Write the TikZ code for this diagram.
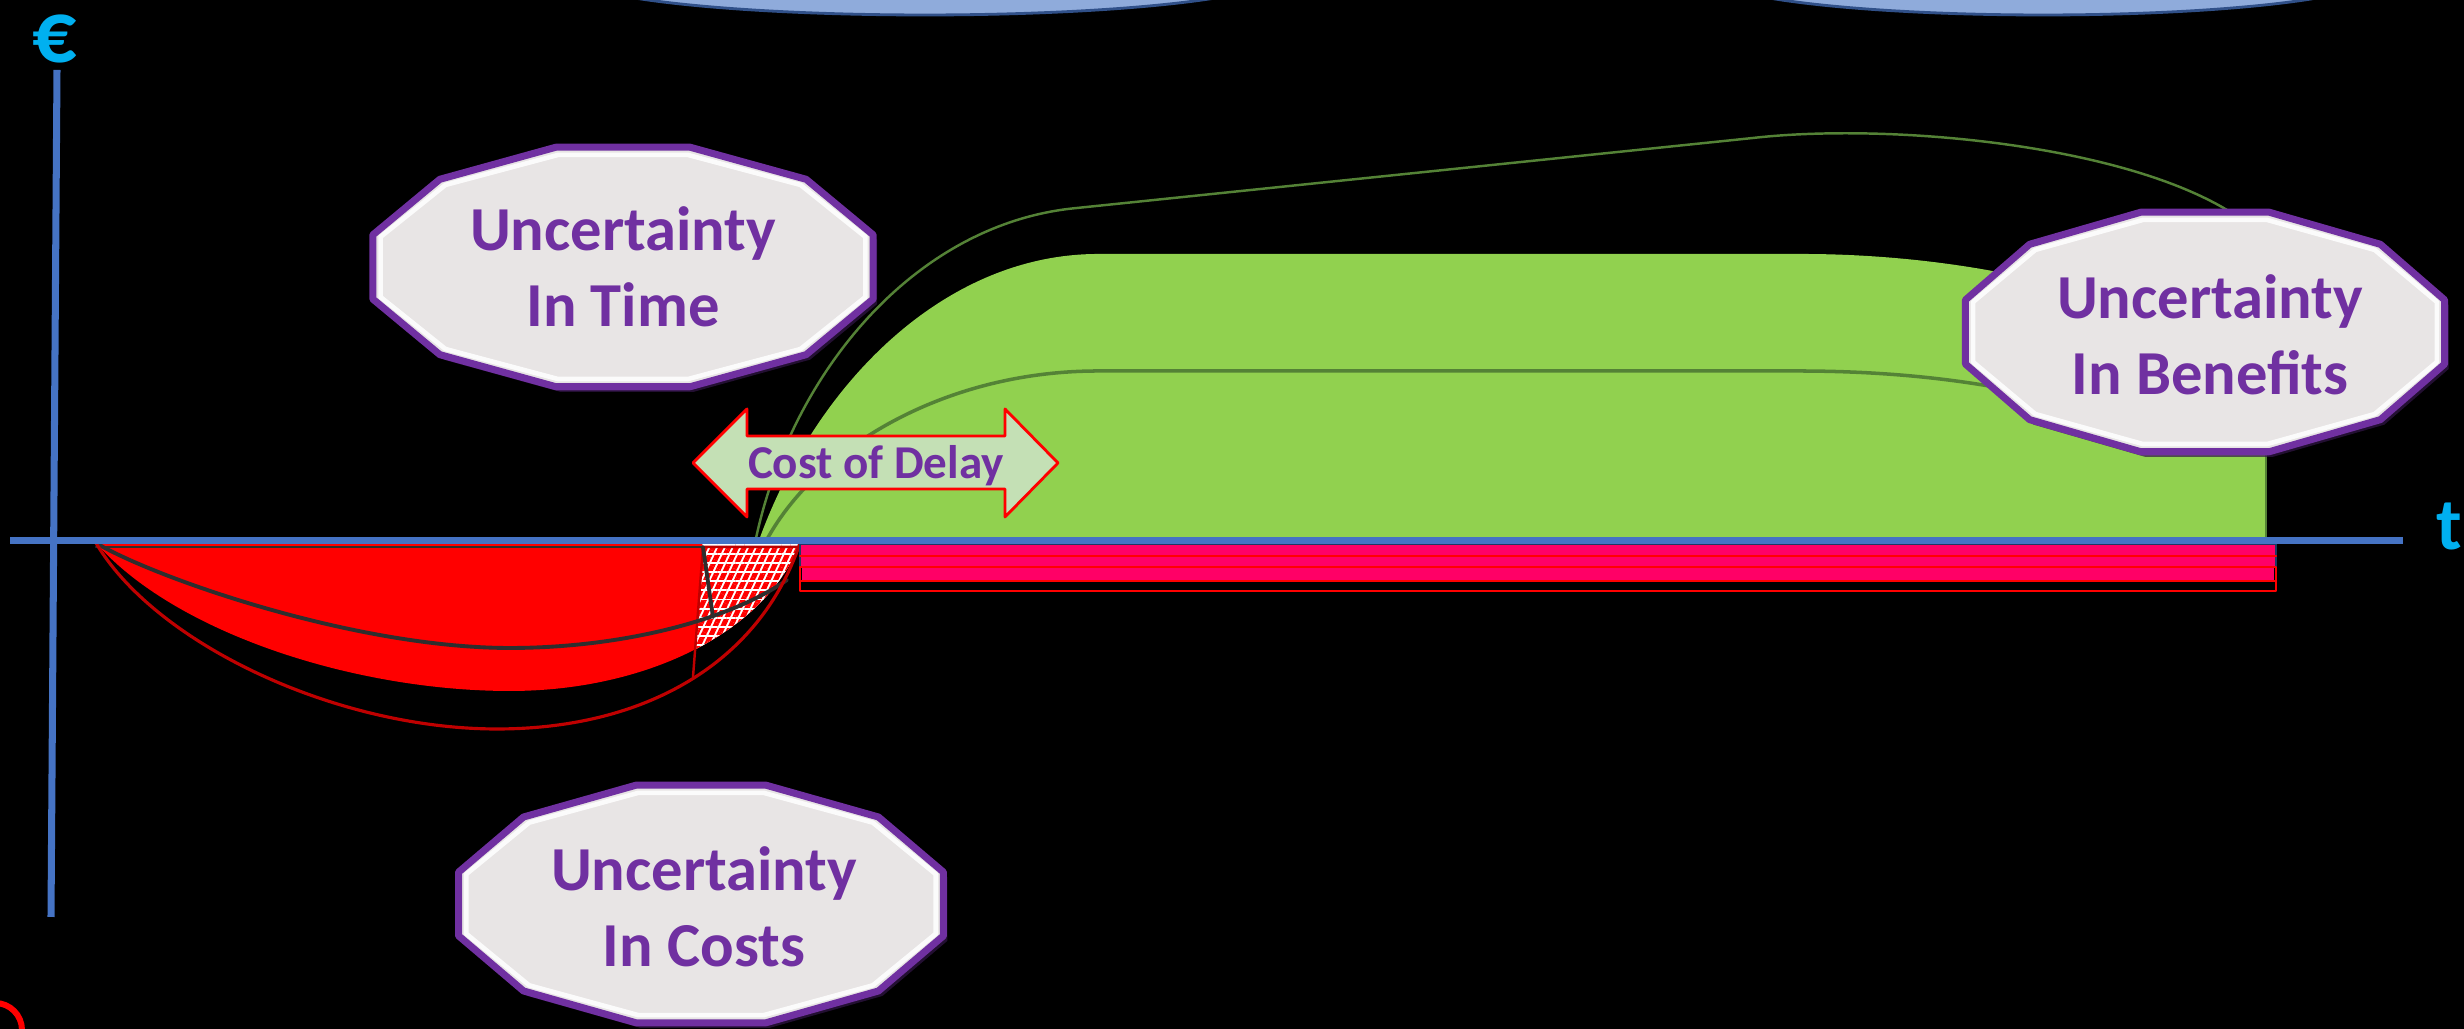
\documentclass[tikz,border=0pt]{standalone}
\usepackage{fontspec}
\setmainfont{Carlito}
\usepackage{pgf,tikz}
\usetikzlibrary{arrows,patterns.meta}
\definecolor{uuxecu}{rgb}{0.27,0.45,0.77}
\definecolor{qqbqfq}{rgb}{0,0.69,0.94}
\definecolor{xqtqaq}{rgb}{0.44,0.19,0.63}
\definecolor{zedqzq}{rgb}{0.57,0.82,0.31}
\definecolor{zuoetz}{rgb}{0.33,0.51,0.21}
\definecolor{ccqqqq}{rgb}{0.75,0,0}
\definecolor{ffqqwu}{rgb}{1,0,0.4}
\definecolor{etrxwu}{rgb}{0.12,0.22,0.39}
\definecolor{cugqbu}{rgb}{0.77,0.88,0.71}
\definecolor{gugugu}{rgb}{0.91,0.90,0.90}
\definecolor{oaaadc}{rgb}{0.56,0.67,0.86}
\definecolor{tqtqtq}{rgb}{0.18,0.18,0.18}

\begin{document}
\begin{tikzpicture}[line cap=round,line join=round,>=triangle 45,x=1.0cm,y=1.0cm,
  dodeca/.style={fill=gugugu,draw=xqtqaq,line width=2pt},
  dodecashadow/.style={fill=xqtqaq!45!black,opacity=0.7},
  bevel/.style={draw=white,line width=1.3pt,opacity=0.85},
  boxtext/.style={color=xqtqaq,font=\fontsize{17.8}{21.6}\selectfont\bfseries,align=center},
  axisline/.style={color=uuxecu,line width=2pt,line cap=butt}]
\useasboundingbox (-0.55,-4.86) rectangle (24.09,5.43);
\clip (-0.55,-4.86) rectangle (24.09,5.43);
\fill[color=black] (-0.55,-4.86) rectangle (24.09,5.43);
% shapes cut at the top
\filldraw[fill=oaaadc,draw=uuxecu!70!black,line width=0.8pt] (8.70,5.68) ellipse (3.55 and 0.40);
\filldraw[fill=oaaadc,draw=uuxecu!70!black,line width=0.8pt] (19.88,5.68) ellipse (3.35 and 0.40);
% benefits
\fill[color=zedqzq] (7.03,0) .. controls (7.6,1.6) and (8.9,2.89) .. (10.43,2.89) -- (17.47,2.89) .. controls (19.5,2.89) and (21.6,2.3) .. (22.11,1.4) -- (22.11,0) -- cycle;
\draw[color=zuoetz,line width=0.6pt] (22.11,1.4) -- (22.11,0.03);
\draw[color=zuoetz,line width=0.7pt] (7.0,0) .. controls (7.35,1.7) and (8.6,3.2) .. (10.22,3.35) -- (16.98,4.05) .. controls (18.3,4.2) and (20.6,4.0) .. (21.72,3.33);
\draw[color=zuoetz,line width=1pt] (7.1,0) .. controls (7.6,0.95) and (8.9,1.72) .. (10.43,1.72) -- (17.42,1.72) .. controls (18.5,1.72) and (19.5,1.6) .. (20.5,1.3);
% costs
\fill[color=red] (0.41,0) .. controls (1.2,-0.9) and (3.0,-1.48) .. (4.55,-1.48) .. controls (5.9,-1.48) and (7.1,-0.9) .. (7.45,0) -- cycle;
\begin{scope}
\clip (6.48,0.05) -- (6.38,-1.6) -- (7.6,-1.6) -- (7.6,0.05) -- cycle;
\fill[color=white] (0.41,0) .. controls (1.2,-0.9) and (3.0,-1.48) .. (4.55,-1.48) .. controls (5.9,-1.48) and (7.1,-0.9) .. (7.45,0) -- cycle;
\fill[pattern={Lines[angle=65,distance=2pt,line width=1.4pt]},pattern color=red] (0.41,0) .. controls (1.2,-0.9) and (3.0,-1.48) .. (4.55,-1.48) .. controls (5.9,-1.48) and (7.1,-0.9) .. (7.45,0) -- cycle;
\fill[pattern={Lines[angle=0,distance=2.6pt,line width=0.5pt]},pattern color=white] (0.41,0) .. controls (1.2,-0.9) and (3.0,-1.48) .. (4.55,-1.48) .. controls (5.9,-1.48) and (7.1,-0.9) .. (7.45,0) -- cycle;
\end{scope}
\draw[color=ccqqqq,line width=0.7pt] (6.38,-1.34) -- (6.48,-0.04) -- (7.45,-0.04);
\draw[color=tqtqtq,line width=0.6pt] (0.41,-0.04) -- (6.48,-0.04);
\draw[color=tqtqtq,line width=1.1pt] (0.41,0) .. controls (1.0,-0.35) and (3.0,-1.05) .. (4.55,-1.05) .. controls (5.6,-1.05) and (6.7,-0.8) .. (7.32,-0.37);
\draw[color=tqtqtq,line width=1.1pt] (6.48,-0.04) -- (6.58,-0.74);
\draw[color=ccqqqq,line width=0.9pt] (0.41,0) .. controls (1.0,-1.0) and (2.8,-1.86) .. (4.42,-1.86) .. controls (5.9,-1.86) and (7.05,-1.2) .. (7.45,0);
% bars
\filldraw[fill=ffqqwu,draw=etrxwu,line width=0.6pt] (7.45,-0.01) rectangle (22.21,-0.24);
\draw[color=red,line width=0.6pt] (7.45,-0.13) -- (22.21,-0.13);
\draw[color=red,line width=0.6pt] (7.45,-0.24) rectangle (22.21,-0.48);
\fill[color=ffqqwu] (7.47,-0.25) rectangle (22.19,-0.37);
\draw[color=red,line width=0.6pt] (7.45,-0.38) -- (22.21,-0.38);
% axes
\draw[axisline] (-0.45,0.02) -- (23.48,0.02);
\draw[axisline] (0.02,4.73) -- (-0.04,-3.74);
\draw[color=qqbqfq] (0,4.80) node[anchor=base,inner sep=0pt,font=\fontsize{25}{28}\selectfont\bfseries] (euro) {€};
\draw[color=qqbqfq] (23.94,-0.07) node[anchor=base,inner sep=0pt,font=\fontsize{21}{25}\selectfont\bfseries] (tlabel) {t};
% cost of delay
\filldraw[fill=cugqbu,draw=red,line width=0.8pt] (6.38,0.80) -- (6.92,1.34) -- (6.92,1.07) -- (9.50,1.07) -- (9.50,1.34) -- (10.03,0.80) -- (9.50,0.26) -- (9.50,0.54) -- (6.92,0.54) -- (6.92,0.26) -- cycle;
\draw[color=xqtqaq] (8.21,0.64) node[anchor=base,font=\fontsize{13.4}{16}\selectfont\bfseries] (delay) {Cost of Delay};
% uncertainty boxes
\fill[dodecashadow] plot[samples at={15,45,...,345}] ({5.72+2.59*cos(\x)},{2.71+1.24*sin(\x)}) -- cycle;
\filldraw[dodeca] plot[samples at={15,45,...,345}] ({5.68+2.59*cos(\x)},{2.76+1.24*sin(\x)}) -- cycle;
\draw[bevel] plot[samples at={15,45,...,345}] ({5.68+2.51*cos(\x)},{2.76+1.16*sin(\x)}) -- cycle;
\draw (5.68,2.76) node[boxtext] (timebox) {Uncertainty\\ In Time};
\fill[dodecashadow] plot[samples at={15,45,...,345}] ({21.54+2.48*cos(\x)},{2.06+1.24*sin(\x)}) -- cycle;
\filldraw[dodeca] plot[samples at={15,45,...,345}] ({21.50+2.48*cos(\x)},{2.11+1.24*sin(\x)}) -- cycle;
\draw[bevel] plot[samples at={15,45,...,345}] ({21.50+2.40*cos(\x)},{2.11+1.16*sin(\x)}) -- cycle;
\draw (21.55,2.08) node[boxtext] (benefitbox) {Uncertainty\\In Benefits};
\fill[dodecashadow] plot[samples at={15,45,...,345}] ({6.50+2.51*cos(\x)},{-3.66+1.23*sin(\x)}) -- cycle;
\filldraw[dodeca] plot[samples at={15,45,...,345}] ({6.46+2.51*cos(\x)},{-3.61+1.23*sin(\x)}) -- cycle;
\draw[bevel] plot[samples at={15,45,...,345}] ({6.46+2.43*cos(\x)},{-3.61+1.15*sin(\x)}) -- cycle;
\draw (6.49,-3.64) node[boxtext] (costbox) {Uncertainty\\In Costs};
\draw[color=red,line width=1.7pt] (-0.60,-4.87) circle (0.27);
\end{tikzpicture}
\end{document}
